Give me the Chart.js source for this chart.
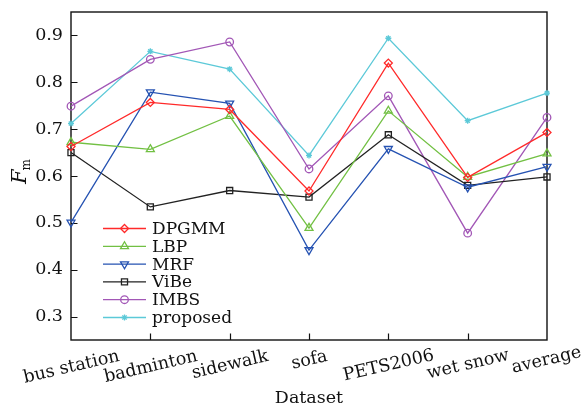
<!DOCTYPE html>
<html>
<head>
<meta charset="utf-8">
<script src="https://cdn.jsdelivr.net/npm/chart.js@4.4.1/dist/chart.umd.min.js"></script>
<style>
  html, body { margin: 0; padding: 0; background: #fff; }
  #wrap { width: 582px; height: 406px; position: relative; }
</style>
</head>
<body>
<div id="wrap"><canvas id="c" width="582" height="406"></canvas></div>
<script>
const categories = ['bus station', 'badminton', 'sidewalk', 'sofa', 'PETS2006', 'wet snow', 'average'];
const dpgmm    = [0.663, 0.757, 0.742, 0.568, 0.841, 0.597, 0.693];
const lbp      = [0.672, 0.657, 0.728, 0.489, 0.739, 0.598, 0.648];
const mrf      = [0.501, 0.779, 0.755, 0.442, 0.658, 0.576, 0.620];
const vibe     = [0.650, 0.534, 0.569, 0.555, 0.688, 0.580, 0.598];
const imbs     = [0.749, 0.849, 0.886, 0.615, 0.771, 0.478, 0.725];
const proposed = [0.712, 0.866, 0.828, 0.644, 0.894, 0.718, 0.777];
const yTicks   = [0.3, 0.4, 0.5, 0.6, 0.7, 0.8, 0.9];
const seriesNames = ['DPGMM', 'LBP', 'MRF', 'ViBe', 'IMBS', 'proposed'];

const FONT = '"DejaVu Serif", "Liberation Serif", serif';

function mk(label, data, color, style, radius, rotation) {
  return {
    label, data,
    borderColor: color,
    backgroundColor: color,
    borderWidth: 1.3,
    pointStyle: style,
    pointRadius: radius,
    pointHoverRadius: radius,
    pointRotation: rotation || 0,
    pointBorderColor: color,
    pointBackgroundColor: 'rgba(255,255,255,0)',
    pointBorderWidth: 1.3,
    tension: 0,
    clip: false
  };
}

const datasets = [
  mk(seriesNames[0], dpgmm, '#ff2a2a', 'rectRot', 4),
  mk(seriesNames[1], lbp, '#72c043', 'triangle', 4.6),
  mk(seriesNames[2], mrf, '#2552b2', 'triangle', 4.6, 180),
  mk(seriesNames[3], vibe, '#222222', 'rect', 4.3),
  mk(seriesNames[4], imbs, '#a257b6', 'circle', 3.8),
  mk(seriesNames[5], proposed, '#5cc9d8', 'star', 3)
];

function drawMarker(ctx, style, x, y, r, rot) {
  ctx.beginPath();
  if (style === 'circle') {
    ctx.arc(x, y, r, 0, Math.PI * 2);
  } else if (style === 'rect') {
    const s = r * Math.SQRT1_2;
    ctx.rect(x - s, y - s, 2 * s, 2 * s);
  } else if (style === 'rectRot') {
    ctx.moveTo(x, y - r); ctx.lineTo(x + r, y); ctx.lineTo(x, y + r); ctx.lineTo(x - r, y); ctx.closePath();
  } else if (style === 'triangle') {
    const a = (rot || 0) * Math.PI / 180;
    for (let k = 0; k < 3; k++) {
      const t = a - Math.PI / 2 + k * 2 * Math.PI / 3;
      const px = x + r * Math.cos(t), py = y + r * Math.sin(t);
      if (k === 0) ctx.moveTo(px, py); else ctx.lineTo(px, py);
    }
    ctx.closePath();
  } else if (style === 'star') {
    for (let k = 0; k < 4; k++) {
      const t = k * Math.PI / 4;
      ctx.moveTo(x - r * Math.cos(t), y - r * Math.sin(t));
      ctx.lineTo(x + r * Math.cos(t), y + r * Math.sin(t));
    }
  }
  ctx.stroke();
}

const framePlugin = {
  id: 'frame',
  beforeDatasetsDraw(chart) {
    const { ctx, chartArea: a } = chart;
    const xs = chart.scales.x, ys = chart.scales.y;
    ctx.save();
    ctx.strokeStyle = '#111';
    ctx.lineWidth = 1.4;
    ctx.strokeRect(a.left, a.top, a.right - a.left, a.bottom - a.top);
    ctx.lineWidth = 1.2;
    ctx.beginPath();
    yTicks.forEach(v => {
      const y = Math.round(ys.getPixelForValue(v)) + 0.5;
      ctx.moveTo(a.left, y); ctx.lineTo(a.left + 6.5, y);
    });
    categories.forEach((c, i) => {
      if (i === 0 || i === categories.length - 1) return;
      const x = Math.round(xs.getPixelForValue(i)) + 0.5;
      ctx.moveTo(x, a.bottom); ctx.lineTo(x, a.bottom - 6.5);
    });
    ctx.stroke();
    ctx.restore();
  },
  afterDraw(chart) {
    const { ctx, chartArea: a } = chart;
    const xs = chart.scales.x;
    ctx.save();
    ctx.fillStyle = '#111';
    const fs = 17.5;
    ctx.font = fs + 'px ' + FONT;
    const th = 13 * Math.PI / 180;
    categories.forEach((c, i) => {
      const m = ctx.measureText(c);
      const asc = m.actualBoundingBoxAscent, desc = m.actualBoundingBoxDescent;
      const w = m.width, h = asc + desc;
      const H = w * Math.sin(th) + h * Math.cos(th);
      const cx = xs.getPixelForValue(i);
      const cy = a.bottom + 8 + H / 2;
      ctx.save();
      ctx.translate(cx, cy);
      ctx.rotate(-th);
      ctx.textAlign = 'center';
      ctx.textBaseline = 'alphabetic';
      ctx.fillText(c, 0, (asc - desc) / 2);
      ctx.restore();
    });
    ctx.font = '17.5px ' + FONT;
    ctx.textAlign = 'center';
    ctx.textBaseline = 'alphabetic';
    ctx.fillText('Dataset', (a.left + a.right) / 2, 403);
    ctx.save();
    ctx.translate(26, 174);
    ctx.rotate(-Math.PI / 2);
    ctx.textAlign = 'left';
    ctx.font = 'italic 21px ' + FONT;
    const fw = ctx.measureText('F').width;
    ctx.fillText('F', -10, 0);
    ctx.font = '12px ' + FONT;
    ctx.fillText('m', -10 + fw - 1, 4);
    ctx.restore();
    const lx0 = 103, lx1 = 146, tx = 152, ly0 = 228.5, step = 17.8;
    chart.data.datasets.forEach((ds, i) => {
      const y = ly0 + i * step;
      ctx.strokeStyle = ds.borderColor;
      ctx.lineWidth = 1.3;
      ctx.beginPath(); ctx.moveTo(lx0, y); ctx.lineTo(lx1, y); ctx.stroke();
      drawMarker(ctx, ds.pointStyle, (lx0 + lx1) / 2, y, ds.pointRadius, ds.pointRotation);
      ctx.fillStyle = '#111';
      ctx.font = '17px ' + FONT;
      ctx.textAlign = 'left';
      ctx.textBaseline = 'middle';
      ctx.fillText(ds.label, tx, y + 1);
    });
    ctx.restore();
  }
};

new Chart(document.getElementById('c'), {
  type: 'line',
  data: { labels: categories, datasets },
  options: {
    responsive: false,
    animation: false,
    devicePixelRatio: 1,
    layout: { padding: { left: 0, right: 35, top: 12, bottom: 0 } },
    plugins: { legend: { display: false }, tooltip: { enabled: false }, title: { display: false } },
    scales: {
      x: {
        type: 'category',
        offset: false,
        grid: { display: false, drawTicks: false },
        border: { display: false },
        ticks: { display: false },
        afterFit(s) { s.height = 66; s.paddingLeft = 0; s.paddingRight = 0; s.paddingTop = 0; s.paddingBottom = 0; }
      },
      y: {
        min: 0.25, max: 0.95,
        grid: { display: false, drawTicks: false },
        border: { display: false },
        afterBuildTicks(s) { s.ticks = yTicks.map(v => ({ value: v })); },
        ticks: {
          padding: 8,
          color: '#111',
          font: { family: FONT, size: 17.5 },
          callback: v => v.toFixed(1)
        },
        afterFit(s) { s.width = 71; s.paddingTop = 0; s.paddingBottom = 0; s.paddingLeft = 0; s.paddingRight = 0; }
      }
    }
  },
  plugins: [framePlugin]
});
</script>
</body>
</html>
